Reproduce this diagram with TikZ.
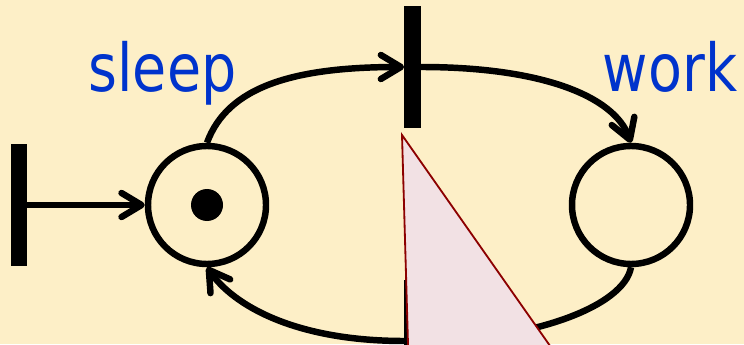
\documentclass[tikz,border=0pt]{standalone}
\usepackage{fontspec}
\newfontfamily\lblfont[FakeStretch=0.84]{DejaVu Sans}
\usetikzlibrary{arrows.meta}
\definecolor{paper}{RGB}{253,239,199}
\definecolor{lblblue}{RGB}{0,51,204}
\definecolor{callout}{RGB}{242,225,228}
\definecolor{calloutedge}{RGB}{140,0,0}
\tikzset{
  place/.style={circle, draw, line width=4.6pt, minimum size=2.95cm, inner sep=0pt},
  trans/.style={fill=black, inner sep=0pt, outer sep=0pt, minimum width=0.42cm, minimum height=3.06cm},
  arc/.style={line width=4.6pt, -{Straight Barb[length=0.5cm,width=0.6cm,round]}},
  lbl/.style={text=lblblue, font=\lblfont\fontsize{47}{50}\selectfont, anchor=base, inner sep=0pt}
}
\begin{document}
\begin{tikzpicture}[scale=1.0]
\clip (0,0) rectangle (18.6,8.6);
\fill[paper] (0,0) rectangle (18.6,8.6);
\node[place] (sleep) at (5.175,3.475) {};
\node[place] (work) at (15.775,3.475) {};
\node[circle, fill, inner sep=0pt, minimum size=0.8cm] (token) at (sleep) {};
\node[trans, minimum width=0.4cm] (t1) at (0.475,3.475) {};
\node[trans] (t2) at (10.3125,6.925) {};
\node[trans] (t3) at (10.3125,0.075) {};
\node[lbl] (sleeplbl) at (4.0625,6.3) {sleep};
\node[lbl] (worklbl) at (16.75,6.3) {work};
\draw[arc] (t1.east) -- (sleep.west);
\draw[arc] (sleep.north) to[out=70,in=180,out distance=1.5cm,in distance=2.75cm] (t2.west);
\draw[arc] (t2.east) to[out=0,in=110,out distance=3cm,in distance=1.25cm] (work.north);
\draw[line width=4.6pt] (work.south) to[out=-100,in=0,out distance=1cm,in distance=2.75cm] (t3.east);
\draw[arc] (t3.west) to[out=180,in=-55,out distance=2.75cm,in distance=1.15cm] (sleep.south);
\fill[callout, draw=calloutedge, line width=1.3pt] (10.05,5.225) -- (10.24,-1.4) -- (14.7,-1.4) -- cycle;
\end{tikzpicture}
\end{document}
